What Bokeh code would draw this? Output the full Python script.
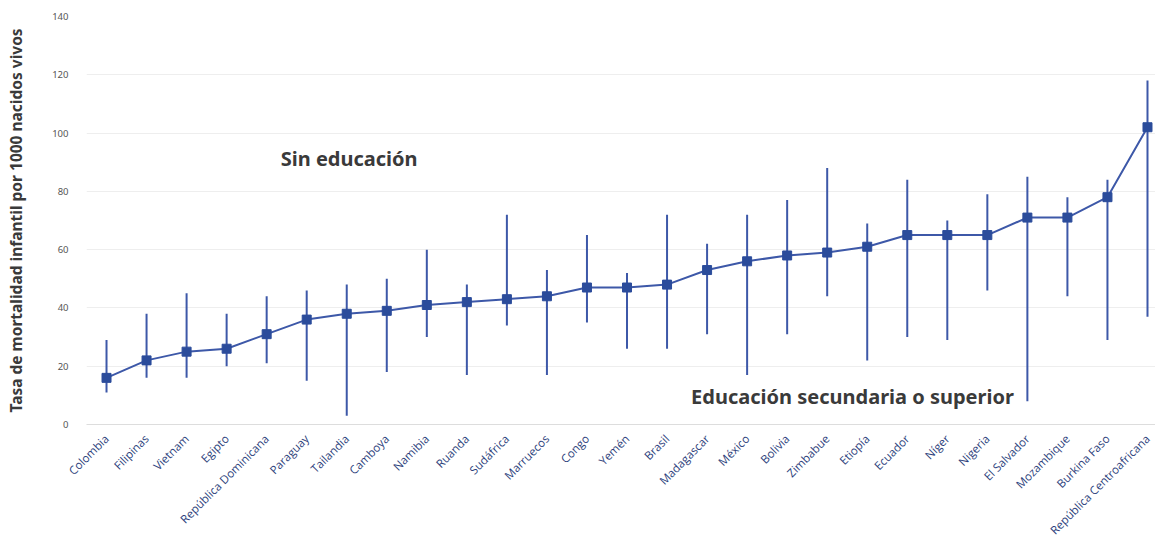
import math
from bokeh.plotting import figure
from bokeh.models import Range1d, FixedTicker, Label, ColumnDataSource
from bokeh.embed import file_html
from bokeh.resources import INLINE

paises = ["Colombia", "Filipinas", "Vietnam", "Egipto", "República Dominicana", "Paraguay",
          "Tailandia", "Camboya", "Namibia", "Ruanda", "Sudáfrica", "Marruecos", "Congo",
          "Yemén", "Brasil", "Madagascar", "México", "Bolivia", "Zimbabue", "Etiopía",
          "Ecuador", "Níger", "Nigeria", "El Salvador", "Mozambique", "Burkina Faso",
          "República Centroafricana"]
promedio = [16, 22, 25, 26, 31, 36, 38, 39, 41, 42, 43, 44, 47, 47, 48, 53, 56, 58, 59, 61,
            65, 65, 65, 71, 71, 78, 102]
sin_educacion = [29, 38, 45, 38, 44, 46, 48, 50, 60, 48, 72, 53, 65, 52, 72, 62, 72, 77, 88, 69,
                 84, 70, 79, 85, 78, 84, 118]
secundaria = [11, 16, 16, 20, 21, 15, 3, 18, 30, 17, 34, 17, 35, 26, 26, 31, 17, 31, 44, 22,
              30, 29, 46, 8, 44, 29, 37]
y_ticks = [0, 20, 40, 60, 80, 100, 120, 140]

idx = list(range(len(paises)))
src = ColumnDataSource(dict(x=idx, m=promedio, hi=sin_educacion, lo=secundaria))

BLUE = "#3d58a8"
p = figure(frame_width=1069, frame_height=408, min_border_left=86, min_border_top=16,
           min_border_right=0, min_border_bottom=10,
           x_range=Range1d(-0.5, 26.2), y_range=Range1d(0, 140),
           output_backend="svg", toolbar_location=None)
p.outline_line_color = None
p.background_fill_color = "white"
p.border_fill_color = "white"

p.segment(x0="x", y0="lo", x1="x", y1="hi", source=src, line_color=BLUE, line_width=2)
p.line(x="x", y="m", source=src, line_color=BLUE, line_width=2)
p.scatter(x="x", y="m", source=src, marker="square", size=9, fill_color="#2b4c9b",
          line_color="#2b4c9b")

p.xgrid.grid_line_color = None
p.ygrid.grid_line_color = "#eeeeee"
p.ygrid.grid_line_width = 1

p.yaxis.ticker = FixedTicker(ticks=y_ticks)
p.yaxis.axis_line_color = None
p.yaxis.major_tick_line_color = None
p.yaxis.minor_tick_line_color = None
p.yaxis.major_label_text_font = "Noto Sans"
p.yaxis.major_label_text_font_size = "9.5px"
p.yaxis.major_label_text_color = "#555555"
p.yaxis.major_label_standoff = 12
p.yaxis.axis_label = "Tasa de mortalidad infantil por 1000 nacidos vivos"
p.yaxis.axis_label_text_font = "Noto Sans"
p.yaxis.axis_label_text_font_style = "bold"
p.yaxis.axis_label_text_font_size = "15.5px"
p.yaxis.axis_label_text_color = "#3a3a3a"
p.yaxis.axis_label_standoff = 22

p.xaxis.ticker = FixedTicker(ticks=idx)
p.xaxis.major_label_overrides = {i: n for i, n in enumerate(paises)}
p.xaxis.major_label_orientation = math.pi / 4
p.xaxis.axis_line_color = "#dddddd"
p.xaxis.major_tick_line_color = None
p.xaxis.minor_tick_line_color = None
p.xaxis.major_label_text_font = "Open Sans"
p.xaxis.major_label_text_font_size = "11.5px"
p.xaxis.major_label_text_color = "#2d3f7c"
p.xaxis.major_label_standoff = 6

p.add_layout(Label(x=4.35, y=91.3, text="Sin educación", text_font="Noto Sans",
                   text_font_size="20px", text_color="#3a3a3a", text_baseline="middle",
                   text_font_style="bold"))
p.add_layout(Label(x=14.6, y=9.6, text="Educación secundaria o superior", text_font="Noto Sans",
                   text_font_size="20px", text_color="#3a3a3a", text_baseline="middle",
                   text_font_style="bold"))

open("out.html", "w").write(file_html(p, INLINE))
